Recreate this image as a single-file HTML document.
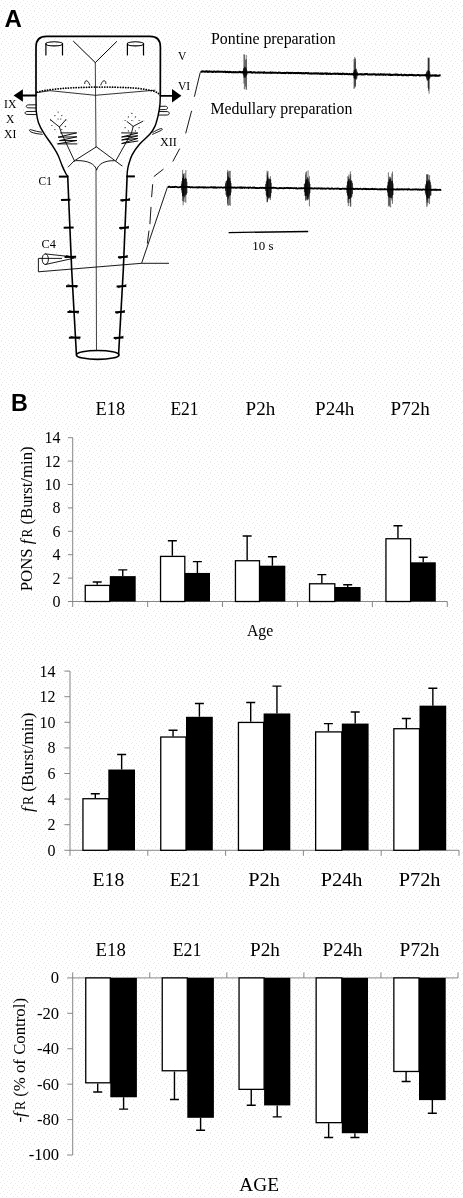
<!DOCTYPE html>
<html><head><meta charset="utf-8"><title>Figure</title>
<style>html,body{margin:0;padding:0;background:#fefefe;}svg{display:block;filter:grayscale(1)}text{fill:#000}</style></head>
<body><svg width="463" height="1198" viewBox="0 0 463 1198">
<defs><pattern id="bg" width="11" height="11" patternUnits="userSpaceOnUse"><rect width="11" height="11" fill="#fefefe"/><rect x="1" y="0" width="1" height="1" fill="#ebebeb"/><rect x="5" y="1" width="1" height="1" fill="#ebebeb"/><rect x="9" y="2" width="1" height="1" fill="#ebebeb"/><rect x="3" y="3" width="1" height="1" fill="#ebebeb"/><rect x="7" y="4" width="1" height="1" fill="#ebebeb"/><rect x="0" y="5" width="1" height="1" fill="#ebebeb"/><rect x="4" y="6" width="1" height="1" fill="#ebebeb"/><rect x="10" y="6" width="1" height="1" fill="#ebebeb"/><rect x="2" y="8" width="1" height="1" fill="#ebebeb"/><rect x="6" y="8" width="1" height="1" fill="#ebebeb"/><rect x="8" y="10" width="1" height="1" fill="#ebebeb"/><rect x="1" y="10" width="1" height="1" fill="#ebebeb"/></pattern></defs>
<rect width="463" height="1198" fill="url(#bg)"/>
<text x="4.6" y="27" font-size="24" text-anchor="start" font-family="Liberation Sans, sans-serif" font-weight="bold">A</text>
<text x="11" y="410.9" font-size="23.3" text-anchor="start" font-family="Liberation Sans, sans-serif" font-weight="bold">B</text>
<g fill="none" stroke="#000" stroke-linecap="round" stroke-linejoin="round">
<path stroke-width="1.7" d="M36,95.5 L36,47 Q36,36.4 46.6,36.4 L150,36.4 Q160.4,36.4 160.4,47 L160.3,95.5"/>
<path stroke-width="1.45" d="M36,95.5 C36.02,96.92 36.05,101.32 36.1,104 C36.15,106.68 35.92,108.53 36.3,111.6 C36.68,114.67 37.15,118.80 38.4,122.4 C39.65,126.00 41.65,129.60 43.8,133.2 C45.95,136.80 48.97,140.40 51.3,144 C53.63,147.60 56.00,151.20 57.8,154.8 C59.60,158.40 60.77,162.48 62.1,165.6 C63.43,168.72 64.87,171.73 65.8,173.5 C66.73,175.27 67.38,175.75 67.7,176.2"/>
<path stroke-width="1.6" d="M67.7,176.2 L71.7,270 L76.4,354"/>
<path stroke-width="1.45" d="M160.3,95.5 C160.23,97.05 160.27,101.45 159.9,104.8 C159.53,108.15 158.93,112.00 158.1,115.6 C157.27,119.20 156.28,123.30 154.9,126.4 C153.52,129.50 152.33,131.27 149.8,134.2 C147.27,137.13 142.65,140.57 139.7,144 C136.75,147.43 133.98,151.20 132.1,154.8 C130.22,158.40 129.20,162.73 128.4,165.6 C127.60,168.47 127.52,170.20 127.3,172 C127.08,173.80 127.13,175.67 127.1,176.4"/>
<path stroke-width="1.6" d="M127.1,176.4 L123.3,270 L118.6,354"/>
<ellipse cx="97.7" cy="354.9" rx="21.3" ry="4.4" stroke-width="1.7"/>
<path stroke-width="0.8" stroke="#111" d="M95.3,62.6 L96,147.2 M96,170 L96.5,350.6"/>
<path stroke-width="1" d="M73.5,41.3 L95.3,62.6 L116.6,41.6"/>
<ellipse cx="54.2" cy="43.8" rx="8.3" ry="2.1" stroke-width="1.1"/>
<path stroke-width="1.2" d="M45.9,43.8 L45.9,55 M62.5,43.8 L62.5,55"/>
<ellipse cx="135.45" cy="43.8" rx="8.049999999999997" ry="2.1" stroke-width="1.1"/>
<path stroke-width="1.2" d="M127.4,43.8 L127.4,55 M143.5,43.8 L143.5,55"/>
<path stroke-width="1.75" stroke-dasharray="0.1 2.5" d="M37.4,92.2 C42,90.8 47,89.9 52.7,89.5 C58,88.7 63,88.4 67.8,88.1 C75,87.6 80,87.5 83,87.4 C90,87.1 94,87 98,87 C110,87 122,87.3 132,87.9 C142,88.6 150,90 155,91.6 C157.5,92.6 159,93.8 160,95"/>
<path stroke-width="0.8" d="M36.5,92.7 L50,90.7 L95.4,95.3 L155,90.2"/>
<path stroke-width="0.9" d="M84.7,83.6 C84.6,81.6 85.6,80.6 86.8,80.8 C88.2,81.2 89,83 89.8,84.9"/>
<path stroke-width="0.9" d="M105.9,83.6 C106,81.6 105,80.6 103.8,80.8 C102.4,81.2 101.6,83 100.8,84.9"/>
<path stroke-width="1.8" stroke-linecap="butt" d="M22,95.5 L36,95.5 M160.3,95.8 L173,95.8"/>
</g>
<path d="M13.6,95.5 L22.9,89.2 L22.9,101.8 Z" fill="#000"/>
<path d="M181.4,95.8 L172,89.1 L172,102.5 Z" fill="#000"/>
<g fill="none" stroke="#000" stroke-linecap="round" stroke-linejoin="round">
<path stroke-width="0.9" d="M36,104.8 L28.2,104.9 C25.6,105 25.6,107.7 28.2,107.8 L36.2,108"/>
<path stroke-width="0.9" d="M36.3,111.4 L27,111.5 C24.4,111.6 24.4,114.3 27,114.4 L36.6,114.6"/>
<path stroke-width="0.9" d="M160,106.3 L165.6,106.3 C168.2,106.4 168.2,109.4 165.6,109.5 L159.6,109.7"/>
<path stroke-width="0.9" d="M159.2,111.5 L167.2,111.6 C170,111.7 170,114.9 167.2,115 L158.4,115.1"/>
<path stroke-width="0.9" d="M42.3,134.3 C38,134 33.5,133.2 31,132 C28.8,130.8 29.2,129 31.2,129.8 C34.5,131 38.5,131.8 41.5,132.2"/>
<path stroke-width="0.9" d="M152.8,132.4 C155.5,130.8 158.5,129.3 160.6,128.6 C162.6,128.1 162.8,129.6 161,130.5 C158.6,131.6 155.5,133 152.6,134.3"/>
<path stroke-width="0.9" d="M50.6,119.9 L59.4,127 L65.7,119.9 M59.4,127 L61.4,132.9 L74.7,161.4"/>
<path stroke-width="0.95" d="M60.7,132.9 L76.7,132.9 L58,137.2 L76.9,136.8 L59.4,140.6 L76.9,140.5 L57.5,143.9 L76.9,143.9"/>
<path stroke-width="0.9" d="M127.1,121.6 L133.2,126.4 L142.9,121.2 M133.2,126.4 L131.5,132.9 L115.7,161"/>
<path stroke-width="0.95" d="M121.6,132.9 L137.8,133 L121.6,137 L137.8,135.8 L121.6,140 L137.8,138.4 L121.6,143.6 L137.8,141"/>
<path stroke-width="0.9" d="M68.2,167 L74,161 L96.4,146.8 L115.5,161 L122,165.9"/>
<path stroke-width="0.9" d="M76,160.6 C88,160.2 95.2,164 96.6,170.2 C98,164 105,160.3 114.2,160.7"/>
</g>
<circle cx="58.1" cy="112.1" r="0.62" fill="#222"/>
<circle cx="54.9" cy="115.6" r="0.62" fill="#222"/>
<circle cx="61.8" cy="115.6" r="0.62" fill="#222"/>
<circle cx="58.1" cy="119" r="0.62" fill="#222"/>
<circle cx="60.7" cy="119" r="0.62" fill="#222"/>
<circle cx="51.9" cy="125.5" r="0.62" fill="#222"/>
<circle cx="65.3" cy="126.4" r="0.62" fill="#222"/>
<circle cx="54.9" cy="129.6" r="0.62" fill="#222"/>
<circle cx="61.8" cy="129.6" r="0.62" fill="#222"/>
<circle cx="50.6" cy="119.9" r="0.62" fill="#222"/>
<circle cx="65.7" cy="119.9" r="0.62" fill="#222"/>
<circle cx="131.9" cy="113.4" r="0.62" fill="#222"/>
<circle cx="128.4" cy="116.9" r="0.62" fill="#222"/>
<circle cx="135.4" cy="116.9" r="0.62" fill="#222"/>
<circle cx="125.1" cy="120.5" r="0.62" fill="#222"/>
<circle cx="131.9" cy="120.5" r="0.62" fill="#222"/>
<circle cx="139.1" cy="120.5" r="0.62" fill="#222"/>
<circle cx="125.1" cy="127.7" r="0.62" fill="#222"/>
<circle cx="139.1" cy="127.7" r="0.62" fill="#222"/>
<circle cx="128.4" cy="130.9" r="0.62" fill="#222"/>
<circle cx="135.4" cy="130.9" r="0.62" fill="#222"/>
<g stroke="#000" stroke-linecap="butt">
<path stroke-width="2" d="M58.834819532908696,176.6 L68.23481953290869,176.6"/>
<path stroke-width="2" d="M126.49188034188035,176.4 L134.89188034188035,176.4"/>
<path stroke-width="2" d="M61.05329087048832,200 L70.45329087048832,199.7"/>
<path stroke-width="2" d="M120.34188034188034,200.3 L130.04188034188033,199.7"/>
<path stroke-width="0.8" d="M121.64188034188034,201.6 L130.14188034188032,198.4"/>
<path stroke-width="2" d="M63.66326963906582,227.8 L73.66326963906582,227.5"/>
<path stroke-width="2" d="M119.21324786324786,228.10000000000002 L128.91324786324785,227.5"/>
<path stroke-width="0.8" d="M120.51324786324786,229.4 L129.01324786324784,226.20000000000002"/>
<path stroke-width="2" d="M64.53418259023356,257 L76.13418259023355,256.7"/>
<path stroke-width="0.8" d="M66.13418259023355,255.4 L75.63418259023355,258.3"/>
<path stroke-width="2" d="M118.02777777777777,257.3 L127.72777777777777,256.7"/>
<path stroke-width="0.8" d="M119.32777777777777,258.6 L127.82777777777777,255.4"/>
<path stroke-width="2" d="M66.00642857142859,286.2 L77.60642857142858,285.9"/>
<path stroke-width="0.8" d="M67.60642857142858,284.59999999999997 L77.10642857142858,287.5"/>
<path stroke-width="2" d="M116.59357142857142,286.5 L126.29357142857143,285.9"/>
<path stroke-width="0.8" d="M117.89357142857142,287.8 L126.39357142857142,284.59999999999997"/>
<path stroke-width="2" d="M67.45000000000002,312 L79.05000000000001,311.7"/>
<path stroke-width="0.8" d="M69.05000000000001,310.4 L78.55000000000001,313.3"/>
<path stroke-width="2" d="M115.14999999999999,312.3 L124.85,311.7"/>
<path stroke-width="0.8" d="M116.44999999999999,313.6 L124.94999999999999,310.4"/>
<path stroke-width="2" d="M68.89357142857143,337.8 L80.49357142857143,337.5"/>
<path stroke-width="0.8" d="M70.49357142857143,336.2 L79.99357142857143,339.1"/>
<path stroke-width="2" d="M113.70642857142857,338.1 L123.40642857142858,337.5"/>
<path stroke-width="0.8" d="M115.00642857142857,339.40000000000003 L123.50642857142857,336.2"/>
</g>
<g fill="none" stroke="#000" stroke-width="0.9">
<ellipse cx="45.3" cy="259.2" rx="3.1" ry="5.3"/>
<path d="M45.3,253.9 L74,257 M45.3,264.5 L74,258.2"/>
<path d="M62,258.4 L38.4,258.4 L38.4,271.8 L141.6,263.3 L169,263.3"/>
<path d="M141.6,263.3 L167.3,187.5"/>
<path d="M200.2,72.5 L194.4,96.7"/>
<path d="M191.6,110.8 L185.7,133.4"/>
<path d="M179.7,148.6 L172.8,161.5"/>
<path d="M163.5,169.1 L153.8,176.6"/>
<path d="M152.7,184.2 L151.6,197.1"/>
<path d="M151,206.9 L149.9,224.1"/>
<path d="M149,230.6 L147.3,243.6"/>
</g>
<text x="4.1" y="107.8" font-size="12.6" text-anchor="start" font-family="Liberation Serif, serif" textLength="12.3" lengthAdjust="spacingAndGlyphs" >IX</text>
<text x="6" y="122.7" font-size="12.6" text-anchor="start" font-family="Liberation Serif, serif" textLength="8.4" lengthAdjust="spacingAndGlyphs" >X</text>
<text x="4.1" y="137.6" font-size="12.6" text-anchor="start" font-family="Liberation Serif, serif" textLength="12.3" lengthAdjust="spacingAndGlyphs" >XI</text>
<text x="177.9" y="60.3" font-size="12.6" text-anchor="start" font-family="Liberation Serif, serif" textLength="8.4" lengthAdjust="spacingAndGlyphs" >V</text>
<text x="177.9" y="89.7" font-size="12.6" text-anchor="start" font-family="Liberation Serif, serif" textLength="12.3" lengthAdjust="spacingAndGlyphs" >VI</text>
<text x="159.9" y="145.6" font-size="12.6" text-anchor="start" font-family="Liberation Serif, serif" textLength="16.9" lengthAdjust="spacingAndGlyphs" >XII</text>
<text x="38.6" y="185.3" font-size="12.6" text-anchor="start" font-family="Liberation Serif, serif" textLength="13.3" lengthAdjust="spacingAndGlyphs" >C1</text>
<text x="41.6" y="248.2" font-size="12.8" text-anchor="start" font-family="Liberation Serif, serif" textLength="14.4" lengthAdjust="spacingAndGlyphs" >C4</text>
<text x="211" y="44" font-size="16" text-anchor="start" font-family="Liberation Serif, serif" textLength="124.6" lengthAdjust="spacingAndGlyphs" >Pontine preparation</text>
<text x="210.5" y="114" font-size="16" text-anchor="start" font-family="Liberation Serif, serif" textLength="141.8" lengthAdjust="spacingAndGlyphs" >Medullary preparation</text>
<text x="252.3" y="249.7" font-size="12.2" text-anchor="start" font-family="Liberation Serif, serif" textLength="21.2" lengthAdjust="spacingAndGlyphs" >10 s</text>
<polyline fill="none" stroke="#000" stroke-width="2.0" points="200.5,71.28 201.2,71.72 201.9,71.68 202.6,71.39 203.3,71.54 204.0,71.53 204.7,71.66 205.4,71.76 206.1,71.35 206.8,71.32 207.5,71.82 208.2,71.59 208.9,71.80 209.6,71.36 210.3,71.63 211.0,71.81 211.7,71.53 212.4,71.97 213.1,71.96 213.8,71.45 214.5,71.45 215.2,71.78 215.9,72.03 216.6,71.70 217.3,71.62 218.0,71.75 218.7,71.53 219.4,71.66 220.1,71.80 220.8,71.84 221.5,71.70 222.2,71.71 222.9,71.71 223.6,71.87 224.3,71.78 225.0,71.63 225.7,72.13 226.4,71.98 227.1,72.04 227.8,71.78 228.5,72.27 229.2,72.21 229.9,71.77 230.6,71.91 231.3,72.16 232.0,72.16 232.7,72.31 233.4,72.01 234.1,72.27 234.8,72.19 235.5,71.98 236.2,72.16 236.9,72.35 237.6,72.34 238.3,72.15 239.0,72.21 239.7,71.89 240.4,72.03 241.1,72.37 241.8,72.15 242.5,72.02 243.2,72.26 243.9,72.36 244.6,72.36 245.3,72.19 246.0,72.24 246.7,72.29 247.4,72.47 248.1,72.32 248.8,72.26 249.5,72.33 250.2,72.07 250.9,72.09 251.6,72.49 252.3,72.67 253.0,72.45 253.7,72.34 254.4,72.22 255.1,72.43 255.8,72.73 256.5,72.62 257.2,72.49 257.9,72.69 258.6,72.33 259.3,72.51 260.0,72.79 260.7,72.57 261.4,72.51 262.1,72.41 262.8,72.59 263.5,72.85 264.2,72.29 264.9,72.77 265.6,72.80 266.3,72.85 267.0,72.78 267.7,72.83 268.4,72.67 269.1,72.71 269.8,72.64 270.5,72.43 271.2,72.93 271.9,72.76 272.6,72.55 273.3,72.74 274.0,72.74 274.7,72.68 275.4,72.68 276.1,72.81 276.8,72.87 277.5,72.88 278.2,72.80 278.9,72.55 279.6,72.69 280.3,72.67 281.0,72.92 281.7,73.10 282.4,73.08 283.1,73.09 283.8,73.11 284.5,72.79 285.2,73.15 285.9,73.06 286.6,72.72 287.3,72.69 288.0,72.70 288.7,73.16 289.4,72.87 290.1,72.79 290.8,73.11 291.5,72.96 292.2,72.80 292.9,72.87 293.6,73.10 294.3,72.90 295.0,72.97 295.7,73.25 296.4,73.11 297.1,73.04 297.8,73.14 298.5,72.88 299.2,73.11 299.9,73.15 300.6,73.02 301.3,72.98 302.0,73.47 302.7,73.25 303.4,73.08 304.1,73.33 304.8,73.47 305.5,73.00 306.2,73.01 306.9,73.10 307.6,73.46 308.3,73.13 309.0,73.47 309.7,73.47 310.4,73.40 311.1,73.22 311.8,73.68 312.5,73.59 313.2,73.43 313.9,73.27 314.6,73.53 315.3,73.39 316.0,73.51 316.7,73.37 317.4,73.57 318.1,73.24 318.8,73.40 319.5,73.81 320.2,73.77 320.9,73.44 321.6,73.78 322.3,73.46 323.0,73.85 323.7,73.75 324.4,73.56 325.1,73.48 325.8,73.34 326.5,73.88 327.2,73.38 327.9,73.86 328.6,73.96 329.3,73.74 330.0,73.51 330.7,73.94 331.4,74.02 332.1,73.87 332.8,73.76 333.5,73.69 334.2,73.69 334.9,73.61 335.6,73.91 336.3,73.77 337.0,73.64 337.7,73.60 338.4,73.95 339.1,73.74 339.8,73.87 340.5,73.78 341.2,74.12 341.9,74.15 342.6,73.63 343.3,73.75 344.0,73.84 344.7,74.25 345.4,74.14 346.1,73.89 346.8,73.82 347.5,74.11 348.2,74.22 348.9,74.29 349.6,73.95 350.3,74.28 351.0,74.18 351.7,74.07 352.4,74.38 353.1,73.94 353.8,74.25 354.5,73.88 355.2,73.94 355.9,74.40 356.6,73.99 357.3,74.33 358.0,74.25 358.7,74.40 359.4,74.13 360.1,74.13 360.8,74.11 361.5,74.47 362.2,74.32 362.9,74.54 363.6,74.51 364.3,74.07 365.0,74.34 365.7,74.08 366.4,74.05 367.1,74.08 367.8,74.57 368.5,74.54 369.2,74.57 369.9,74.29 370.6,74.47 371.3,74.58 372.0,74.35 372.7,74.48 373.4,74.28 374.1,74.21 374.8,74.33 375.5,74.72 376.2,74.53 376.9,74.76 377.6,74.49 378.3,74.40 379.0,74.72 379.7,74.75 380.4,74.27 381.1,74.68 381.8,74.35 382.5,74.37 383.2,74.85 383.9,74.35 384.6,74.48 385.3,74.94 386.0,74.61 386.7,74.44 387.4,74.49 388.1,74.54 388.8,74.86 389.5,74.48 390.2,74.98 390.9,74.67 391.6,75.04 392.3,75.02 393.0,74.66 393.7,74.65 394.4,74.79 395.1,74.58 395.8,74.92 396.5,74.57 397.2,74.56 397.9,75.15 398.6,74.75 399.3,74.95 400.0,74.87 400.7,74.80 401.4,74.66 402.1,75.18 402.8,75.23 403.5,75.24 404.2,74.74 404.9,74.81 405.6,75.07 406.3,75.30 407.0,75.05 407.7,75.15 408.4,75.14 409.1,74.91 409.8,75.09 410.5,74.96 411.2,74.94 411.9,74.85 412.6,74.98 413.3,75.42 414.0,75.11 414.7,75.24 415.4,75.25 416.1,75.44 416.8,75.12 417.5,75.08 418.2,75.11 418.9,75.11 419.6,75.44 420.3,75.48 421.0,75.14 421.7,75.17 422.4,75.31 423.1,75.34 423.8,75.36 424.5,75.17 425.2,75.04 425.9,75.19 426.6,75.10 427.3,75.40 428.0,75.12 428.7,75.14 429.4,75.48 430.1,75.29 430.8,75.60 431.5,75.43 432.2,75.67 432.9,75.25 433.6,75.47 434.3,75.66 435.0,75.24 435.7,75.78 436.4,75.33 437.1,75.70 437.8,75.84 438.5,75.75 439.2,75.46 439.9,75.35 440.6,75.60"/>
<path fill="none" stroke="#222" stroke-width="0.6" d="M246.26,59.0 L246.26,90.0 M243.93,54.4 L243.93,83.6 M244.45,54.5 L244.45,89.3 M246.22,54.9 L246.22,88.9 M245.57,59.8 L245.57,86.6"/>
<path fill="none" stroke="#000" stroke-width="0.75" d="M243.00,70.7 L243.00,74.3 M243.55,68.3 L243.55,75.5 M244.10,68.6 L244.10,77.6 M244.65,66.7 L244.65,77.2 M245.20,67.2 L245.20,77.9 M245.75,67.7 L245.75,76.7 M246.30,68.6 L246.30,75.8 M246.85,70.2 L246.85,75.0"/>
<path fill="none" stroke="#222" stroke-width="0.6" d="M355.25,58.8 L355.25,85.7 M355.06,62.0 L355.06,86.2 M354.78,56.9 L354.78,88.2 M355.20,58.5 L355.20,87.0 M354.02,59.1 L354.02,88.9"/>
<path fill="none" stroke="#000" stroke-width="0.75" d="M353.50,72.2 L353.50,76.0 M354.05,70.2 L354.05,78.2 M354.60,70.1 L354.60,78.6 M355.15,69.3 L355.15,78.5 M355.70,69.4 L355.70,79.2 M356.25,68.7 L356.25,79.6 M356.80,70.6 L356.80,78.3 M357.35,72.1 L357.35,76.2"/>
<path fill="none" stroke="#222" stroke-width="0.6" d="M428.04,57.8 L428.04,87.7 M428.80,57.7 L428.80,88.8 M428.58,58.0 L428.58,89.2 M428.60,58.8 L428.60,90.9 M429.07,57.6 L429.07,93.6"/>
<path fill="none" stroke="#000" stroke-width="0.75" d="M426.00,73.5 L426.00,77.0 M426.55,72.1 L426.55,78.6 M427.10,70.7 L427.10,80.4 M427.65,71.4 L427.65,80.6 M428.20,70.0 L428.20,80.0 M428.75,70.7 L428.75,79.4 M429.30,71.0 L429.30,78.6 M429.85,72.3 L429.85,78.3"/>
<polyline fill="none" stroke="#000" stroke-width="1.8" points="167.5,187.17 168.2,187.18 168.9,186.65 169.6,186.67 170.3,187.13 171.0,187.08 171.7,187.05 172.4,186.84 173.1,187.02 173.8,187.03 174.5,187.02 175.2,186.78 175.9,186.95 176.6,186.93 177.3,187.14 178.0,187.31 178.7,187.29 179.4,187.05 180.1,187.00 180.8,186.90 181.5,186.77 182.2,186.77 182.9,187.04 183.6,186.96 184.3,187.01 185.0,187.32 185.7,187.11 186.4,187.14 187.1,186.95 187.8,186.83 188.5,187.02 189.2,186.91 189.9,187.14 190.6,187.44 191.3,187.26 192.0,186.97 192.7,187.40 193.4,187.35 194.1,187.32 194.8,187.43 195.5,187.35 196.2,187.38 196.9,187.12 197.6,187.51 198.3,187.50 199.0,187.03 199.7,187.39 200.4,187.38 201.1,187.23 201.8,187.28 202.5,187.26 203.2,187.53 203.9,187.29 204.6,187.49 205.3,187.21 206.0,187.54 206.7,187.55 207.4,187.30 208.1,187.37 208.8,187.59 209.5,187.48 210.2,187.34 210.9,187.19 211.6,187.26 212.3,187.49 213.0,187.18 213.7,187.63 214.4,187.26 215.1,187.65 215.8,187.30 216.5,187.69 217.2,187.55 217.9,187.44 218.6,187.45 219.3,187.54 220.0,187.51 220.7,187.35 221.4,187.30 222.1,187.49 222.8,187.75 223.5,187.57 224.2,187.25 224.9,187.70 225.6,187.65 226.3,187.77 227.0,187.34 227.7,187.68 228.4,187.28 229.1,187.64 229.8,187.42 230.5,187.40 231.2,187.80 231.9,187.35 232.6,187.60 233.3,187.81 234.0,187.45 234.7,187.44 235.4,187.85 236.1,187.58 236.8,187.76 237.5,187.36 238.2,187.57 238.9,187.46 239.6,187.77 240.3,187.42 241.0,187.95 241.7,187.40 242.4,187.83 243.1,187.41 243.8,187.56 244.5,187.90 245.2,187.52 245.9,187.54 246.6,187.85 247.3,187.68 248.0,187.48 248.7,188.05 249.4,187.56 250.1,187.50 250.8,187.69 251.5,187.86 252.2,187.94 252.9,187.57 253.6,187.71 254.3,187.54 255.0,187.80 255.7,187.99 256.4,187.98 257.1,188.09 257.8,188.01 258.5,188.08 259.2,187.99 259.9,187.86 260.6,187.72 261.3,187.99 262.0,187.79 262.7,187.67 263.4,187.88 264.1,188.15 264.8,187.71 265.5,187.99 266.2,187.88 266.9,187.96 267.6,187.75 268.3,188.24 269.0,187.83 269.7,188.05 270.4,187.94 271.1,187.71 271.8,188.04 272.5,187.80 273.2,187.75 273.9,187.75 274.6,187.83 275.3,187.80 276.0,188.13 276.7,188.06 277.4,188.35 278.1,188.33 278.8,188.37 279.5,187.92 280.2,188.06 280.9,187.95 281.6,188.16 282.3,188.19 283.0,188.30 283.7,188.26 284.4,187.99 285.1,188.10 285.8,188.17 286.5,187.86 287.2,187.89 287.9,188.12 288.6,187.95 289.3,188.32 290.0,188.04 290.7,187.96 291.4,188.02 292.1,188.06 292.8,188.06 293.5,188.25 294.2,188.22 294.9,188.13 295.6,188.34 296.3,188.09 297.0,188.51 297.7,188.56 298.4,188.42 299.1,188.25 299.8,188.31 300.5,188.36 301.2,188.05 301.9,188.27 302.6,188.34 303.3,188.15 304.0,188.10 304.7,188.53 305.4,188.28 306.1,188.38 306.8,188.63 307.5,188.45 308.2,188.26 308.9,188.69 309.6,188.33 310.3,188.12 311.0,188.53 311.7,188.19 312.4,188.32 313.1,188.65 313.8,188.55 314.5,188.17 315.2,188.43 315.9,188.42 316.6,188.47 317.3,188.31 318.0,188.55 318.7,188.24 319.4,188.38 320.1,188.44 320.8,188.78 321.5,188.28 322.2,188.69 322.9,188.36 323.6,188.60 324.3,188.49 325.0,188.54 325.7,188.73 326.4,188.52 327.1,188.36 327.8,188.37 328.5,188.35 329.2,188.82 329.9,188.70 330.6,188.90 331.3,188.75 332.0,188.36 332.7,188.74 333.4,188.82 334.1,188.80 334.8,188.67 335.5,188.59 336.2,188.66 336.9,188.87 337.6,188.56 338.3,188.72 339.0,188.70 339.7,189.00 340.4,188.91 341.1,189.00 341.8,188.95 342.5,188.63 343.2,188.60 343.9,188.76 344.6,188.63 345.3,188.74 346.0,188.90 346.7,189.05 347.4,188.86 348.1,189.00 348.8,188.58 349.5,188.74 350.2,189.13 350.9,188.63 351.6,188.80 352.3,188.60 353.0,188.62 353.7,189.11 354.4,189.17 355.1,188.97 355.8,188.67 356.5,188.78 357.2,188.75 357.9,189.02 358.6,189.03 359.3,188.89 360.0,188.95 360.7,188.71 361.4,188.98 362.1,189.23 362.8,189.12 363.5,188.73 364.2,188.99 364.9,189.12 365.6,188.85 366.3,189.24 367.0,188.99 367.7,189.14 368.4,188.97 369.1,189.33 369.8,189.21 370.5,189.09 371.2,188.84 371.9,189.03 372.6,188.79 373.3,189.14 374.0,189.31 374.7,188.90 375.4,189.11 376.1,189.10 376.8,189.06 377.5,189.25 378.2,189.39 378.9,189.26 379.6,189.13 380.3,189.43 381.0,189.06 381.7,189.31 382.4,189.27 383.1,189.34 383.8,189.40 384.5,189.03 385.2,189.28 385.9,189.15 386.6,189.32 387.3,189.51 388.0,189.31 388.7,188.95 389.4,189.23 390.1,189.38 390.8,189.49 391.5,189.36 392.2,189.47 392.9,189.00 393.6,189.56 394.3,189.44 395.0,189.37 395.7,189.56 396.4,189.55 397.1,189.09 397.8,189.53 398.5,189.51 399.2,189.17 399.9,189.51 400.6,189.42 401.3,189.19 402.0,189.56 402.7,189.17 403.4,189.46 404.1,189.36 404.8,189.26 405.5,189.46 406.2,189.41 406.9,189.26 407.6,189.72 408.3,189.19 409.0,189.16 409.7,189.45 410.4,189.67 411.1,189.57 411.8,189.64 412.5,189.48 413.2,189.61 413.9,189.41 414.6,189.38 415.3,189.52 416.0,189.25 416.7,189.29 417.4,189.70 418.1,189.36 418.8,189.71 419.5,189.74 420.2,189.52 420.9,189.69 421.6,189.76 422.3,189.82 423.0,189.39 423.7,189.41 424.4,189.55 425.1,189.61 425.8,189.51 426.5,189.35 427.2,189.68 427.9,189.94 428.6,189.58 429.3,189.69 430.0,189.61 430.7,189.65 431.4,189.92 432.1,189.59 432.8,189.80 433.5,189.71 434.2,189.75 434.9,189.98 435.6,189.48 436.3,189.94 437.0,189.63 437.7,189.85 438.4,189.94 439.1,189.87 439.8,189.72 440.5,189.99 441.2,189.55"/>
<path fill="none" stroke="#222" stroke-width="0.6" d="M184.88,173.1 L184.88,202.1 M185.83,170.1 L185.83,202.8 M183.47,174.3 L183.47,201.6 M183.13,173.9 L183.13,205.3 M182.61,169.9 L182.61,201.0 M183.71,173.6 L183.71,198.8"/>
<path fill="none" stroke="#000" stroke-width="0.75" d="M181.40,183.6 L181.40,190.2 M181.95,181.0 L181.95,192.8 M182.50,178.0 L182.50,196.2 M183.05,178.6 L183.05,196.3 M183.60,176.1 L183.60,195.6 M184.15,179.2 L184.15,195.5 M184.70,178.9 L184.70,197.2 M185.25,178.5 L185.25,195.6 M185.80,177.7 L185.80,194.5 M186.35,179.0 L186.35,194.7 M186.90,182.0 L186.90,193.1"/>
<path fill="none" stroke="#222" stroke-width="0.6" d="M227.71,169.9 L227.71,205.5 M228.41,171.3 L228.41,205.7 M229.46,170.9 L229.46,205.1 M230.29,170.9 L230.29,205.9 M227.49,171.8 L227.49,203.6 M227.82,173.5 L227.82,199.9"/>
<path fill="none" stroke="#000" stroke-width="0.75" d="M225.50,183.3 L225.50,190.9 M226.05,181.3 L226.05,194.9 M226.60,180.8 L226.60,196.8 M227.15,180.2 L227.15,194.5 M227.70,178.9 L227.70,196.2 M228.25,176.4 L228.25,198.6 M228.80,177.1 L228.80,196.7 M229.35,178.3 L229.35,195.6 M229.90,178.0 L229.90,195.5 M230.45,181.0 L230.45,195.1 M231.00,183.0 L231.00,192.4"/>
<path fill="none" stroke="#222" stroke-width="0.6" d="M270.45,176.2 L270.45,200.1 M267.31,175.0 L267.31,202.2 M267.51,174.3 L267.51,200.9 M267.47,172.4 L267.47,201.6 M268.05,171.2 L268.05,199.5 M267.05,170.6 L267.05,202.3"/>
<path fill="none" stroke="#000" stroke-width="0.75" d="M265.70,184.0 L265.70,191.0 M266.25,181.6 L266.25,195.2 M266.80,180.7 L266.80,196.6 M267.35,178.9 L267.35,196.3 M267.90,176.8 L267.90,196.8 M268.45,178.6 L268.45,197.9 M269.00,179.3 L269.00,198.7 M269.55,178.6 L269.55,197.3 M270.10,179.5 L270.10,198.0 M270.65,179.3 L270.65,196.2 M271.20,182.8 L271.20,193.1"/>
<path fill="none" stroke="#222" stroke-width="0.6" d="M307.41,176.9 L307.41,200.3 M309.45,176.3 L309.45,206.4 M308.08,170.5 L308.08,200.1 M306.46,171.4 L306.46,199.5 M305.59,174.7 L305.59,200.8 M305.76,172.3 L305.76,200.2"/>
<path fill="none" stroke="#000" stroke-width="0.75" d="M304.40,184.1 L304.40,192.2 M304.95,183.3 L304.95,195.7 M305.50,181.5 L305.50,196.1 M306.05,179.5 L306.05,195.7 M306.60,179.1 L306.60,195.9 M307.15,180.1 L307.15,199.5 M307.70,177.7 L307.70,197.9 M308.25,178.6 L308.25,198.9 M308.80,181.3 L308.80,196.7 M309.35,182.3 L309.35,194.4 M309.90,184.0 L309.90,193.0"/>
<path fill="none" stroke="#222" stroke-width="0.6" d="M347.86,176.1 L347.86,202.7 M350.33,171.4 L350.33,206.6 M350.75,174.0 L350.75,206.7 M348.33,176.9 L348.33,206.0 M350.35,176.2 L350.35,202.7 M348.92,174.5 L348.92,203.1"/>
<path fill="none" stroke="#000" stroke-width="0.75" d="M346.90,185.4 L346.90,192.9 M347.45,181.7 L347.45,195.3 M348.00,181.2 L348.00,195.9 M348.55,179.2 L348.55,199.3 M349.10,180.6 L349.10,198.9 M349.65,178.6 L349.65,198.9 M350.20,181.3 L350.20,198.4 M350.75,180.9 L350.75,196.7 M351.30,180.2 L351.30,197.7 M351.85,181.3 L351.85,196.7 M352.40,183.1 L352.40,194.1"/>
<path fill="none" stroke="#222" stroke-width="0.6" d="M388.43,172.4 L388.43,206.4 M391.86,173.7 L391.86,200.6 M389.08,177.4 L389.08,205.1 M390.59,176.8 L390.59,207.4 M392.48,171.5 L392.48,203.8 M389.49,176.6 L389.49,206.5"/>
<path fill="none" stroke="#000" stroke-width="0.75" d="M387.50,185.4 L387.50,192.5 M388.05,181.9 L388.05,195.7 M388.60,181.8 L388.60,196.7 M389.15,179.7 L389.15,197.8 M389.70,179.4 L389.70,197.0 M390.25,179.0 L390.25,197.8 M390.80,178.2 L390.80,197.5 M391.35,180.9 L391.35,198.4 M391.90,181.3 L391.90,197.7 M392.45,180.8 L392.45,195.5 M393.00,183.4 L393.00,195.0"/>
<path fill="none" stroke="#222" stroke-width="0.6" d="M429.55,175.2 L429.55,204.1 M427.63,175.1 L427.63,202.6 M426.96,175.0 L426.96,202.2 M428.17,174.3 L428.17,203.1 M426.87,174.1 L426.87,207.1 M427.09,174.0 L427.09,205.6"/>
<path fill="none" stroke="#000" stroke-width="0.75" d="M425.40,185.5 L425.40,193.5 M425.95,183.9 L425.95,195.2 M426.50,180.8 L426.50,196.8 M427.05,182.8 L427.05,199.7 M427.60,181.6 L427.60,198.2 M428.15,180.9 L428.15,198.2 M428.70,179.4 L428.70,198.4 M429.25,180.8 L429.25,198.4 M429.80,180.2 L429.80,196.3 M430.35,182.2 L430.35,195.7 M430.90,185.2 L430.90,195.2"/>
<path d="M228.6,232.6 L308.2,231.5" stroke="#000" stroke-width="1.3"/>
<path d="M72.7,437.70000000000005 L72.7,607.0 M67.9,601.5 L447.3,601.5" stroke="#7a7a7a" stroke-width="0.9" fill="none"/>
<path d="M67.9,578.1 L72.7,578.1" stroke="#7a7a7a" stroke-width="0.9"/>
<path d="M67.9,554.7 L72.7,554.7" stroke="#7a7a7a" stroke-width="0.9"/>
<path d="M67.9,531.3 L72.7,531.3" stroke="#7a7a7a" stroke-width="0.9"/>
<path d="M67.9,507.9 L72.7,507.9" stroke="#7a7a7a" stroke-width="0.9"/>
<path d="M67.9,484.5 L72.7,484.5" stroke="#7a7a7a" stroke-width="0.9"/>
<path d="M67.9,461.1 L72.7,461.1" stroke="#7a7a7a" stroke-width="0.9"/>
<path d="M67.9,437.70000000000005 L72.7,437.70000000000005" stroke="#7a7a7a" stroke-width="0.9"/>
<text x="60.6" y="606.9" font-size="16" text-anchor="end" font-family="Liberation Serif, serif" >0</text>
<text x="60.6" y="583.5" font-size="16" text-anchor="end" font-family="Liberation Serif, serif" >2</text>
<text x="60.6" y="560.1" font-size="16" text-anchor="end" font-family="Liberation Serif, serif" >4</text>
<text x="60.6" y="536.6999999999999" font-size="16" text-anchor="end" font-family="Liberation Serif, serif" >6</text>
<text x="60.6" y="513.3" font-size="16" text-anchor="end" font-family="Liberation Serif, serif" >8</text>
<text x="60.6" y="489.9" font-size="16" text-anchor="end" font-family="Liberation Serif, serif" >10</text>
<text x="60.6" y="466.5" font-size="16" text-anchor="end" font-family="Liberation Serif, serif" >12</text>
<text x="60.6" y="443.1" font-size="16" text-anchor="end" font-family="Liberation Serif, serif" >14</text>
<path d="M147.62,601.5 L147.62,607.0" stroke="#7a7a7a" stroke-width="0.9"/>
<path d="M222.54000000000002,601.5 L222.54000000000002,607.0" stroke="#7a7a7a" stroke-width="0.9"/>
<path d="M297.46,601.5 L297.46,607.0" stroke="#7a7a7a" stroke-width="0.9"/>
<path d="M372.38,601.5 L372.38,607.0" stroke="#7a7a7a" stroke-width="0.9"/>
<path d="M447.3,601.5 L447.3,607.0" stroke="#7a7a7a" stroke-width="0.9"/>
<path d="M97.19999999999999,584.769 L97.19999999999999,581.961 M92.69999999999999,581.961 L101.69999999999999,581.961" stroke="#000" stroke-width="1.4" fill="none"/>
<rect x="85.25" y="585.419" width="24.550000000000004" height="16.080999999999996" fill="#fff" stroke="#000" stroke-width="1.3"/>
<path d="M172.35000000000002,555.753 L172.35000000000002,540.777 M167.85000000000002,540.777 L176.85000000000002,540.777" stroke="#000" stroke-width="1.4" fill="none"/>
<rect x="160.55" y="556.403" width="24.250000000000007" height="45.09699999999996" fill="#fff" stroke="#000" stroke-width="1.3"/>
<path d="M247.15,560.082 L247.15,535.98 M242.65,535.98 L251.65,535.98" stroke="#000" stroke-width="1.4" fill="none"/>
<rect x="235.45000000000002" y="560.732" width="24.04999999999999" height="40.76800000000001" fill="#fff" stroke="#000" stroke-width="1.3"/>
<path d="M321.85,583.131 L321.85,574.59 M317.35,574.59 L326.35,574.59" stroke="#000" stroke-width="1.4" fill="none"/>
<rect x="309.54999999999995" y="583.781" width="25.250000000000036" height="17.71900000000003" fill="#fff" stroke="#000" stroke-width="1.3"/>
<path d="M397.95000000000005,538.086 L397.95000000000005,525.684 M393.45000000000005,525.684 L402.45000000000005,525.684" stroke="#000" stroke-width="1.4" fill="none"/>
<rect x="385.95" y="538.736" width="24.650000000000013" height="62.76399999999999" fill="#fff" stroke="#000" stroke-width="1.3"/>
<path d="M122.75,576.111 L122.75,569.91 M118.25,569.91 L127.25,569.91" stroke="#000" stroke-width="1.4" fill="none"/>
<rect x="109.8" y="576.111" width="25.89999999999999" height="25.38900000000001" fill="#000"/>
<path d="M197.4,572.952 L197.4,561.603 M192.9,561.603 L201.9,561.603" stroke="#000" stroke-width="1.4" fill="none"/>
<rect x="184.8" y="572.952" width="25.19999999999999" height="28.548000000000002" fill="#000"/>
<path d="M272.4,565.698 L272.4,556.689 M267.9,556.689 L276.9,556.689" stroke="#000" stroke-width="1.4" fill="none"/>
<rect x="259.5" y="565.698" width="25.80000000000001" height="35.80200000000002" fill="#000"/>
<path d="M347.70000000000005,586.992 L347.70000000000005,584.769 M343.20000000000005,584.769 L352.20000000000005,584.769" stroke="#000" stroke-width="1.4" fill="none"/>
<rect x="334.8" y="586.992" width="25.80000000000001" height="14.508000000000038" fill="#000"/>
<path d="M423.20000000000005,562.305 L423.20000000000005,557.274 M418.70000000000005,557.274 L427.70000000000005,557.274" stroke="#000" stroke-width="1.4" fill="none"/>
<rect x="410.6" y="562.305" width="25.19999999999999" height="39.19500000000005" fill="#000"/>
<text x="95.6" y="415" font-size="19" text-anchor="start" font-family="Liberation Serif, serif" textLength="29.6" lengthAdjust="spacingAndGlyphs" >E18</text>
<text x="170.4" y="415" font-size="19" text-anchor="start" font-family="Liberation Serif, serif" textLength="28.2" lengthAdjust="spacingAndGlyphs" >E21</text>
<text x="245.6" y="415" font-size="19" text-anchor="start" font-family="Liberation Serif, serif" textLength="29.6" lengthAdjust="spacingAndGlyphs" >P2h</text>
<text x="315.1" y="415" font-size="19" text-anchor="start" font-family="Liberation Serif, serif" textLength="39.3" lengthAdjust="spacingAndGlyphs" >P24h</text>
<text x="390.6" y="415" font-size="19" text-anchor="start" font-family="Liberation Serif, serif" textLength="39.2" lengthAdjust="spacingAndGlyphs" >P72h</text>
<text x="246.9" y="635.5" font-size="15.8" text-anchor="start" font-family="Liberation Serif, serif" textLength="26.3" lengthAdjust="spacingAndGlyphs" >Age</text>
<text transform="translate(32.2,591.2) rotate(-90)" font-size="17.5" font-family="Liberation Serif, serif" textLength="144.8" lengthAdjust="spacingAndGlyphs">PONS <tspan font-style="italic">f</tspan><tspan font-size="13.8" dx="2.2">R</tspan> (Burst/min)</text>
<path d="M70,671.0999999999999 L70,855.8 M64.4,850.3 L459,850.3" stroke="#7a7a7a" stroke-width="0.9" fill="none"/>
<path d="M64.4,824.6999999999999 L70,824.6999999999999" stroke="#7a7a7a" stroke-width="0.9"/>
<path d="M64.4,799.0999999999999 L70,799.0999999999999" stroke="#7a7a7a" stroke-width="0.9"/>
<path d="M64.4,773.5 L70,773.5" stroke="#7a7a7a" stroke-width="0.9"/>
<path d="M64.4,747.9 L70,747.9" stroke="#7a7a7a" stroke-width="0.9"/>
<path d="M64.4,722.3 L70,722.3" stroke="#7a7a7a" stroke-width="0.9"/>
<path d="M64.4,696.6999999999999 L70,696.6999999999999" stroke="#7a7a7a" stroke-width="0.9"/>
<path d="M64.4,671.0999999999999 L70,671.0999999999999" stroke="#7a7a7a" stroke-width="0.9"/>
<text x="55.6" y="855.6999999999999" font-size="16" text-anchor="end" font-family="Liberation Serif, serif" >0</text>
<text x="55.6" y="830.0999999999999" font-size="16" text-anchor="end" font-family="Liberation Serif, serif" >2</text>
<text x="55.6" y="804.4999999999999" font-size="16" text-anchor="end" font-family="Liberation Serif, serif" >4</text>
<text x="55.6" y="778.9" font-size="16" text-anchor="end" font-family="Liberation Serif, serif" >6</text>
<text x="55.6" y="753.3" font-size="16" text-anchor="end" font-family="Liberation Serif, serif" >8</text>
<text x="55.6" y="727.6999999999999" font-size="16" text-anchor="end" font-family="Liberation Serif, serif" >10</text>
<text x="55.6" y="702.0999999999999" font-size="16" text-anchor="end" font-family="Liberation Serif, serif" >12</text>
<text x="55.6" y="676.4999999999999" font-size="16" text-anchor="end" font-family="Liberation Serif, serif" >14</text>
<path d="M147.8,850.3 L147.8,855.8" stroke="#7a7a7a" stroke-width="0.9"/>
<path d="M225.6,850.3 L225.6,855.8" stroke="#7a7a7a" stroke-width="0.9"/>
<path d="M303.4,850.3 L303.4,855.8" stroke="#7a7a7a" stroke-width="0.9"/>
<path d="M381.2,850.3 L381.2,855.8" stroke="#7a7a7a" stroke-width="0.9"/>
<path d="M459.0,850.3 L459.0,855.8" stroke="#7a7a7a" stroke-width="0.9"/>
<path d="M95.3,798.0759999999999 L95.3,793.7239999999999 M90.8,793.7239999999999 L99.8,793.7239999999999" stroke="#000" stroke-width="1.4" fill="none"/>
<rect x="82.95" y="798.7259999999999" width="25.35" height="51.57400000000005" fill="#fff" stroke="#000" stroke-width="1.3"/>
<path d="M173.05,736.3799999999999 L173.05,730.2359999999999 M168.55,730.2359999999999 L177.55,730.2359999999999" stroke="#000" stroke-width="1.4" fill="none"/>
<rect x="160.75" y="737.0299999999999" width="25.250000000000007" height="113.27000000000007" fill="#fff" stroke="#000" stroke-width="1.3"/>
<path d="M250.70000000000002,721.788 L250.70000000000002,702.4599999999999 M246.20000000000002,702.4599999999999 L255.20000000000002,702.4599999999999" stroke="#000" stroke-width="1.4" fill="none"/>
<rect x="238.45000000000002" y="722.438" width="25.150000000000013" height="127.86199999999994" fill="#fff" stroke="#000" stroke-width="1.3"/>
<path d="M328.4,731.26 L328.4,723.5799999999999 M323.9,723.5799999999999 L332.9,723.5799999999999" stroke="#000" stroke-width="1.4" fill="none"/>
<rect x="315.65" y="731.91" width="26.150000000000013" height="118.38999999999996" fill="#fff" stroke="#000" stroke-width="1.3"/>
<path d="M406.35,728.06 L406.35,718.4599999999999 M401.85,718.4599999999999 L410.85,718.4599999999999" stroke="#000" stroke-width="1.4" fill="none"/>
<rect x="393.84999999999997" y="728.7099999999999" width="25.650000000000013" height="121.59" fill="#fff" stroke="#000" stroke-width="1.3"/>
<path d="M121.65,769.5319999999999 L121.65,754.4279999999999 M117.15,754.4279999999999 L126.15,754.4279999999999" stroke="#000" stroke-width="1.4" fill="none"/>
<rect x="108.3" y="769.5319999999999" width="26.700000000000003" height="80.76800000000003" fill="#000"/>
<path d="M199.4,716.7959999999999 L199.4,703.4839999999999 M194.9,703.4839999999999 L203.9,703.4839999999999" stroke="#000" stroke-width="1.4" fill="none"/>
<rect x="186" y="716.7959999999999" width="26.80000000000001" height="133.50400000000002" fill="#000"/>
<path d="M276.95000000000005,713.468 L276.95000000000005,686.0759999999999 M272.45000000000005,686.0759999999999 L281.45000000000005,686.0759999999999" stroke="#000" stroke-width="1.4" fill="none"/>
<rect x="263.6" y="713.468" width="26.69999999999999" height="136.832" fill="#000"/>
<path d="M355.20000000000005,723.5799999999999 L355.20000000000005,712.06 M350.70000000000005,712.06 L359.70000000000005,712.06" stroke="#000" stroke-width="1.4" fill="none"/>
<rect x="341.8" y="723.5799999999999" width="26.80000000000001" height="126.72000000000003" fill="#000"/>
<path d="M432.85,705.66 L432.85,688.252 M428.35,688.252 L437.35,688.252" stroke="#000" stroke-width="1.4" fill="none"/>
<rect x="419.5" y="705.66" width="26.69999999999999" height="144.64" fill="#000"/>
<text x="92.6" y="885.5" font-size="19" text-anchor="start" font-family="Liberation Serif, serif" textLength="31.7" lengthAdjust="spacingAndGlyphs" >E18</text>
<text x="169.7" y="885.5" font-size="19" text-anchor="start" font-family="Liberation Serif, serif" textLength="30.8" lengthAdjust="spacingAndGlyphs" >E21</text>
<text x="248.2" y="885.5" font-size="19" text-anchor="start" font-family="Liberation Serif, serif" textLength="31.7" lengthAdjust="spacingAndGlyphs" >P2h</text>
<text x="320.7" y="885.5" font-size="19" text-anchor="start" font-family="Liberation Serif, serif" textLength="41.7" lengthAdjust="spacingAndGlyphs" >P24h</text>
<text x="398.7" y="885.5" font-size="19" text-anchor="start" font-family="Liberation Serif, serif" textLength="41.8" lengthAdjust="spacingAndGlyphs" >P72h</text>
<text transform="translate(33.1,812) rotate(-90)" font-size="17" font-family="Liberation Serif, serif" textLength="99.5" lengthAdjust="spacingAndGlyphs"><tspan font-style="italic">f</tspan><tspan font-size="13.8" dx="2.2">R</tspan> (Burst/min)</text>
<path d="M72.7,1155.0 L72.7,972.4 M67.3,977.9 L458,977.9" stroke="#7a7a7a" stroke-width="0.9" fill="none"/>
<path d="M67.3,1013.3199999999999 L72.7,1013.3199999999999" stroke="#7a7a7a" stroke-width="0.9"/>
<path d="M67.3,1048.74 L72.7,1048.74" stroke="#7a7a7a" stroke-width="0.9"/>
<path d="M67.3,1084.1599999999999 L72.7,1084.1599999999999" stroke="#7a7a7a" stroke-width="0.9"/>
<path d="M67.3,1119.58 L72.7,1119.58" stroke="#7a7a7a" stroke-width="0.9"/>
<path d="M67.3,1155.0 L72.7,1155.0" stroke="#7a7a7a" stroke-width="0.9"/>
<text x="59.1" y="983.3" font-size="16.6" text-anchor="end" font-family="Liberation Serif, serif" >0</text>
<text x="59.1" y="1018.7199999999999" font-size="16.6" text-anchor="end" font-family="Liberation Serif, serif" >-20</text>
<text x="59.1" y="1054.14" font-size="16.6" text-anchor="end" font-family="Liberation Serif, serif" >-40</text>
<text x="59.1" y="1089.56" font-size="16.6" text-anchor="end" font-family="Liberation Serif, serif" >-60</text>
<text x="59.1" y="1124.98" font-size="16.6" text-anchor="end" font-family="Liberation Serif, serif" >-80</text>
<text x="59.1" y="1160.4" font-size="16.6" text-anchor="end" font-family="Liberation Serif, serif" >-100</text>
<path d="M149.76,977.9 L149.76,972.4" stroke="#7a7a7a" stroke-width="0.9"/>
<path d="M226.82,977.9 L226.82,972.4" stroke="#7a7a7a" stroke-width="0.9"/>
<path d="M303.88,977.9 L303.88,972.4" stroke="#7a7a7a" stroke-width="0.9"/>
<path d="M380.94,977.9 L380.94,972.4" stroke="#7a7a7a" stroke-width="0.9"/>
<path d="M458.0,977.9 L458.0,972.4" stroke="#7a7a7a" stroke-width="0.9"/>
<path d="M97.69999999999999,1083.4515999999999 L97.69999999999999,1091.9524 M93.19999999999999,1091.9524 L102.19999999999999,1091.9524" stroke="#000" stroke-width="1.4" fill="none"/>
<rect x="85.75" y="977.9" width="24.550000000000004" height="104.90159999999989" fill="#fff" stroke="#000" stroke-width="1.3"/>
<path d="M174.45,1071.4088 L174.45,1099.5677 M169.95,1099.5677 L178.95,1099.5677" stroke="#000" stroke-width="1.4" fill="none"/>
<rect x="162.25" y="977.9" width="25.05000000000002" height="92.85879999999995" fill="#fff" stroke="#000" stroke-width="1.3"/>
<path d="M251.25,1090.0043 L251.25,1105.2349 M246.75,1105.2349 L255.75,1105.2349" stroke="#000" stroke-width="1.4" fill="none"/>
<rect x="239.05" y="977.9" width="25.05000000000002" height="111.45430000000007" fill="#fff" stroke="#000" stroke-width="1.3"/>
<path d="M328.65,1123.2991 L328.65,1137.4670999999998 M324.15,1137.4670999999998 L333.15,1137.4670999999998" stroke="#000" stroke-width="1.4" fill="none"/>
<rect x="316.15" y="977.9" width="25.650000000000013" height="144.74909999999997" fill="#fff" stroke="#000" stroke-width="1.3"/>
<path d="M406.1,1072.1172 L406.1,1081.5035 M401.6,1081.5035 L410.6,1081.5035" stroke="#000" stroke-width="1.4" fill="none"/>
<rect x="393.84999999999997" y="977.9" width="25.150000000000013" height="93.56719999999993" fill="#fff" stroke="#000" stroke-width="1.3"/>
<path d="M123.6,1097.2654 L123.6,1109.1311 M119.1,1109.1311 L128.1,1109.1311" stroke="#000" stroke-width="1.4" fill="none"/>
<rect x="110.3" y="977.9" width="26.60000000000001" height="119.36540000000002" fill="#000"/>
<path d="M200.60000000000002,1117.809 L200.60000000000002,1130.206 M196.10000000000002,1130.206 L205.10000000000002,1130.206" stroke="#000" stroke-width="1.4" fill="none"/>
<rect x="187.3" y="977.9" width="26.599999999999994" height="139.909" fill="#000"/>
<path d="M277.20000000000005,1105.412 L277.20000000000005,1116.9234999999999 M272.70000000000005,1116.9234999999999 L281.70000000000005,1116.9234999999999" stroke="#000" stroke-width="1.4" fill="none"/>
<rect x="264.1" y="977.9" width="26.19999999999999" height="127.51200000000006" fill="#000"/>
<path d="M354.9,1133.2167 L354.9,1137.4670999999998 M350.4,1137.4670999999998 L359.4,1137.4670999999998" stroke="#000" stroke-width="1.4" fill="none"/>
<rect x="341.8" y="977.9" width="26.19999999999999" height="155.31669999999997" fill="#000"/>
<path d="M432.35,1100.099 L432.35,1113.2044 M427.85,1113.2044 L436.85,1113.2044" stroke="#000" stroke-width="1.4" fill="none"/>
<rect x="419" y="977.9" width="26.69999999999999" height="122.19899999999996" fill="#000"/>
<text x="95.6" y="955.5" font-size="19" text-anchor="start" font-family="Liberation Serif, serif" textLength="30.2" lengthAdjust="spacingAndGlyphs" >E18</text>
<text x="172.7" y="955.5" font-size="19" text-anchor="start" font-family="Liberation Serif, serif" textLength="28.7" lengthAdjust="spacingAndGlyphs" >E21</text>
<text x="250" y="955.5" font-size="19" text-anchor="start" font-family="Liberation Serif, serif" textLength="29.9" lengthAdjust="spacingAndGlyphs" >P2h</text>
<text x="322.5" y="955.5" font-size="19" text-anchor="start" font-family="Liberation Serif, serif" textLength="39.9" lengthAdjust="spacingAndGlyphs" >P24h</text>
<text x="399.6" y="955.5" font-size="19" text-anchor="start" font-family="Liberation Serif, serif" textLength="39.9" lengthAdjust="spacingAndGlyphs" >P72h</text>
<text transform="translate(24.8,1122.5) rotate(-90)" font-size="17" font-family="Liberation Serif, serif" textLength="124.5" lengthAdjust="spacingAndGlyphs">-<tspan font-style="italic">f</tspan><tspan font-size="13.8" dx="2.2">R</tspan> (% of Control)</text>
<text x="239.3" y="1191.4" font-size="18.5" text-anchor="start" font-family="Liberation Serif, serif" textLength="39.7" lengthAdjust="spacingAndGlyphs" >AGE</text>
</svg></body></html>
